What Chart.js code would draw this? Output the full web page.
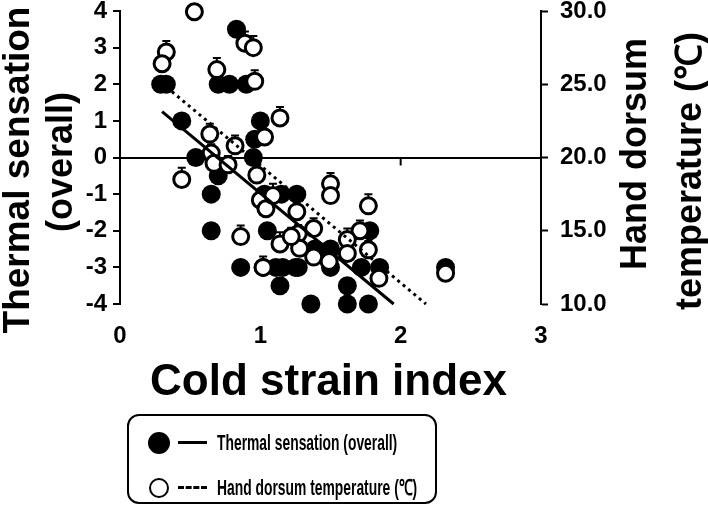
<!DOCTYPE html>
<html><head><meta charset="utf-8">
<script src="https://cdn.jsdelivr.net/npm/chart.js@4/dist/chart.umd.min.js"></script>
<style>
html,body{margin:0;padding:0;background:#fff;}
#wrap{position:relative;width:708px;height:510px;overflow:hidden;}
#c{position:absolute;left:0;top:0;}
.legend{position:absolute;left:127px;top:414px;width:310px;height:90px;border:2px solid #000;border-radius:12px;box-sizing:border-box;font-family:"Liberation Sans",Arial,sans-serif;font-weight:bold;color:#000;}
.row{position:absolute;left:0;height:30px;width:100%;}
.dot{position:absolute;border-radius:50%;box-sizing:border-box;}
.ln{position:absolute;left:49px;width:29px;top:13px;height:0;border-top:3px solid #000;}
.ln.dash{border-top:3px dashed #000;}
.txt{position:absolute;left:88px;top:1px;font-size:22px;line-height:27px;white-space:nowrap;transform:scaleX(0.63);transform-origin:0 50%;}
</style></head>
<body><div id="wrap"><canvas id="c" width="708" height="510"></canvas>
<div class="legend">
 <div class="row" style="top:12px;"><div class="dot" style="left:19px;top:4px;width:22px;height:22px;background:#000;"></div><div class="ln"></div><div class="txt">Thermal sensation (overall)</div></div>
 <div class="row" style="top:57px;"><div class="dot" style="left:20px;top:5px;width:20px;height:20px;border:2px solid #000;background:#fff;"></div><div class="ln dash"></div><div class="txt">Hand dorsum temperature (℃)</div></div>
</div></div>
<script>
// ---- data ----
const tsStrainIndex = [0.29,0.33,0.83,0.70,0.78,0.90,0.44,1.00,0.96,0.54,0.95,0.70,0.65,0.65,1.05,0.86,1.02,1.11,1.14,1.25,1.27,1.36,1.03,1.15,1.26,1.39,1.50,1.50,1.62,1.62,1.77,1.72,1.85,1.78,2.32,1.16];
const thermalSensation = [2,2,3.5,2,2,2,1,1,0.5,0,0,-0.5,-1,-2,-2,-3,-3,-3,-3.5,-3,-3,-4,-1,-1,-1,-2.5,-2.5,-3,-3.5,-4,-4,-3,-3,-2,-3,-3];
const htStrainIndex = [0.53,0.89,0.95,0.33,0.30,0.69,0.96,0.64,0.82,1.03,1.14,0.65,0.67,0.77,0.44,0.975,0.86,1.02,1.00,1.04,1.09,1.26,1.14,1.27,1.28,1.38,1.38,1.49,1.50,1.50,1.77,1.71,1.62,1.77,1.62,1.845,2.32,1.22];
const handTemp = [29.95,27.8,27.5,27.2,26.4,26.0,25.2,21.6,20.8,21.4,22.7,20.3,19.6,19.5,18.5,18.8,14.6,12.5,17.1,16.5,17.4,16.3,14.1,14.8,13.8,15.15,13.2,12.9,18.2,17.4,16.7,15.0,14.4,13.7,13.45,11.75,12.1,14.6];
const handTempSD = [0.5,0.8,0.8,0.75,0.4,0.8,0.75,0.7,0.7,0.5,0.75,0.6,0.6,0.6,0.8,0.6,0.75,0.75,0.6,0.6,0.8,0.75,0.8,0.6,0.6,0.7,0.6,0.6,0.75,0.5,0.8,0.7,0.75,0.6,0.6,0.6,0.5,0.6];
const tsFitX = [0.30, 1.95];
const tsFitY = [1.25, -4.0];
const htFitX = [0.37, 2.18];
const htFitY = [24.5, 10.0];
const xTickValues = [0,1,2,3];
const leftTitle = ["Thermal sensation","(overall)"];
const rightTitle = ["Hand dorsum","temperature (℃)"];
const xTitle = "Cold strain index";

const FONT = '"Liberation Sans", Arial, Helvetica, sans-serif';
Chart.defaults.font.family = FONT;
Chart.defaults.color = '#000';

const pts = (xs, ys) => xs.map((x,i)=>({x:x, y:ys[i]}));

const errorBars = {
  id:'errorBars',
  beforeDatasetDraw(chart, args){
    if (args.index !== 2) return;
    const ctx = chart.ctx, ys = chart.scales.y2;
    ctx.save(); ctx.strokeStyle='#000'; ctx.lineWidth=2;
    args.meta.data.forEach((el,i)=>{
      const top = ys.getPixelForValue(handTemp[i] + handTempSD[i]);
      ctx.beginPath(); ctx.moveTo(el.x, el.y); ctx.lineTo(el.x, top);
      ctx.moveTo(el.x-4, top); ctx.lineTo(el.x+4, top); ctx.stroke();
    });
    ctx.restore();
  }
};
const zeroTicks = {
  id:'zeroTicks',
  beforeDatasetsDraw(chart){
    const ctx = chart.ctx, xs = chart.scales.x, y0 = chart.scales.y.getPixelForValue(0);
    ctx.save(); ctx.strokeStyle='#000'; ctx.lineWidth=2;
    xTickValues.forEach(v=>{ if(v===0) return; const px = xs.getPixelForValue(v);
      ctx.beginPath(); ctx.moveTo(px,y0); ctx.lineTo(px,y0+8); ctx.stroke(); });
    ctx.restore();
  }
};
const titles = {
  id:'titles',
  afterDraw(chart){
    const ctx = chart.ctx, a = chart.chartArea;
    ctx.save(); ctx.fillStyle='#000';
    ctx.textAlign='center'; ctx.textBaseline='alphabetic';
    const rot = (txt, bx, cy) => { ctx.save(); ctx.translate(bx, cy); ctx.rotate(-Math.PI/2); ctx.fillText(txt, 0, 0); ctx.restore(); };
    ctx.font = 'bold 37px ' + FONT;
    rot(leftTitle[0], 29, 170);
    ctx.font = 'bold 36px ' + FONT;
    rot(leftTitle[1], 72, 162);
    ctx.font = 'bold 36px ' + FONT;
    rot(rightTitle[0], 646, 154);
    rot(rightTitle[1], 701, 171);
    ctx.font = 'bold 44px ' + FONT;
    ctx.fillText(xTitle, (a.left+a.right)/2 - 2, 395);
    ctx.restore();
  }
};
const noPad = s => { s.paddingTop = 0; s.paddingBottom = 0; };

new Chart(document.getElementById('c'), {
  data:{ datasets:[
    {type:'line', data:pts(tsFitX, tsFitY), yAxisID:'y', borderColor:'#000', borderWidth:3, pointRadius:0, fill:false, clip:false},
    {type:'line', data:pts(htFitX, htFitY), yAxisID:'y2', borderColor:'#000', borderWidth:3, borderDash:[3,4], pointRadius:0, fill:false, clip:false},
    {type:'scatter', data:pts(htStrainIndex, handTemp), yAxisID:'y2', clip:false, pointRadius:8, pointBorderWidth:3, borderColor:'#000', backgroundColor:'#fff', pointBorderColor:'#000', pointBackgroundColor:'#fff'},
    {type:'scatter', data:pts(tsStrainIndex, thermalSensation), yAxisID:'y', clip:false, pointRadius:9.5, pointBorderWidth:0, borderColor:'#000', backgroundColor:'#000', pointBackgroundColor:'#000'}
  ]},
  options:{
    responsive:false, animation:false, events:[],
    layout:{padding:{top:10,left:0,right:0,bottom:0}},
    plugins:{legend:{display:false}, tooltip:{enabled:false}},
    scales:{
      x:{type:'linear', position:'bottom', min:0, max:3,
         ticks:{stepSize:1, font:{size:24, weight:'bold'}, color:'#000', padding:18, maxRotation:0},
         grid:{display:false, drawTicks:false}, border:{display:false},
         afterFit(s){ s.height = 206; s.paddingLeft = 0; s.paddingRight = 0; }},
      y:{type:'linear', position:'left', min:-4, max:4,
         ticks:{stepSize:1, font:{size:24, weight:'bold'}, color:'#000', padding:6},
         grid:{color:c=>c.tick && c.tick.value===0 ? '#000' : 'rgba(0,0,0,0)', lineWidth:2, tickColor:'#000', tickWidth:2, tickLength:7},
         border:{display:true, color:'#000', width:2},
         afterFit(s){ s.width = 120; noPad(s); }},
      y2:{type:'linear', position:'right', min:10, max:30,
         ticks:{stepSize:5, font:{size:24, weight:'bold'}, color:'#000', padding:12, callback:v=>Number(v).toFixed(1)},
         grid:{drawOnChartArea:false, color:'#000', tickColor:'#000', tickWidth:2, tickLength:7},
         border:{display:true, color:'#000', width:2},
         afterFit(s){ s.width = 167; noPad(s); }}
    }
  },
  plugins:[errorBars, zeroTicks, titles]
});
</script></body></html>
